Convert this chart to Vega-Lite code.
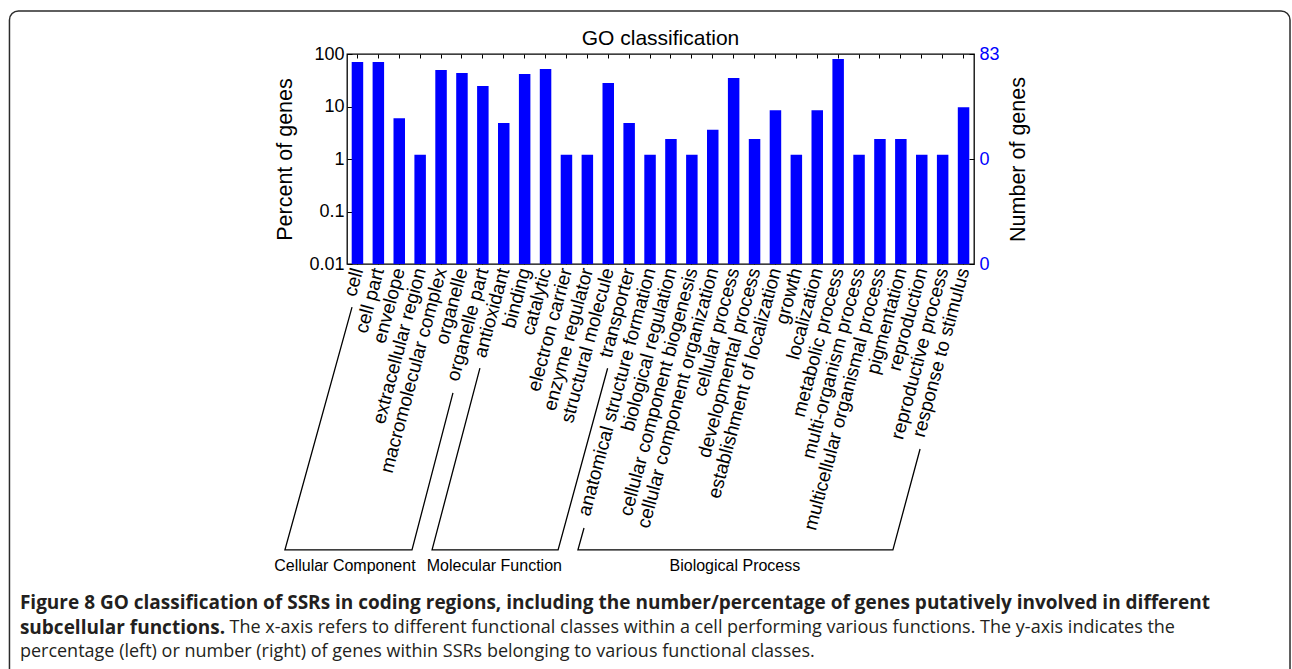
{
  "$schema": "https://vega.github.io/schema/vega-lite/v6.json",
  "width": 627,
  "height": 210,
  "autosize": {"type": "none"},
  "padding": {"left": 347, "top": 54, "right": 318, "bottom": 405},
  "background": "white",
  "config": {
    "view": {"stroke": "black", "strokeWidth": 1.3},
    "font": "Liberation Sans",
    "axis": {"grid": false, "labelFont": "Liberation Sans", "titleFont": "Liberation Sans", "labelColor": "black", "titleColor": "black", "tickColor": "black", "titleFontWeight": "normal", "domain": false}
  },
  "title": {"text": "GO classification", "fontSize": 21, "fontWeight": "normal", "font": "Liberation Sans", "color": "black", "anchor": "middle", "frame": "group", "offset": -56, "baseline": "alphabetic"},
  "datasets": {
    "go": [
      {"term": "cell", "group": "Cellular Component", "percent": 70.5, "genes": 58},
      {"term": "cell part", "group": "Cellular Component", "percent": 70.5, "genes": 58},
      {"term": "envelope", "group": "Cellular Component", "percent": 6.0, "genes": 5},
      {"term": "extracellular region", "group": "Cellular Component", "percent": 1.2, "genes": 1},
      {"term": "macromolecular complex", "group": "Cellular Component", "percent": 49.5, "genes": 41},
      {"term": "organelle", "group": "Cellular Component", "percent": 43.5, "genes": 36},
      {"term": "organelle part", "group": "Cellular Component", "percent": 24.6, "genes": 20},
      {"term": "antioxidant", "group": "Molecular Function", "percent": 4.85, "genes": 4},
      {"term": "binding", "group": "Molecular Function", "percent": 41.7, "genes": 35},
      {"term": "catalytic", "group": "Molecular Function", "percent": 51.8, "genes": 43},
      {"term": "electron carrier", "group": "Molecular Function", "percent": 1.2, "genes": 1},
      {"term": "enzyme regulator", "group": "Molecular Function", "percent": 1.2, "genes": 1},
      {"term": "structural molecule", "group": "Molecular Function", "percent": 28.0, "genes": 23},
      {"term": "transporter", "group": "Molecular Function", "percent": 4.85, "genes": 4},
      {"term": "anatomical structure formation", "group": "Biological Process", "percent": 1.2, "genes": 1},
      {"term": "biological regulation", "group": "Biological Process", "percent": 2.4, "genes": 2},
      {"term": "cellular component biogenesis", "group": "Biological Process", "percent": 1.2, "genes": 1},
      {"term": "cellular component organization", "group": "Biological Process", "percent": 3.6, "genes": 3},
      {"term": "cellular process", "group": "Biological Process", "percent": 34.9, "genes": 29},
      {"term": "developmental process", "group": "Biological Process", "percent": 2.4, "genes": 2},
      {"term": "establishment of localization", "group": "Biological Process", "percent": 8.5, "genes": 7},
      {"term": "growth", "group": "Biological Process", "percent": 1.2, "genes": 1},
      {"term": "localization", "group": "Biological Process", "percent": 8.5, "genes": 7},
      {"term": "metabolic process", "group": "Biological Process", "percent": 80.5, "genes": 67},
      {"term": "multi-organism process", "group": "Biological Process", "percent": 1.2, "genes": 1},
      {"term": "multicellular organismal process", "group": "Biological Process", "percent": 2.4, "genes": 2},
      {"term": "pigmentation", "group": "Biological Process", "percent": 2.4, "genes": 2},
      {"term": "reproduction", "group": "Biological Process", "percent": 1.2, "genes": 1},
      {"term": "reproductive process", "group": "Biological Process", "percent": 1.2, "genes": 1},
      {"term": "response to stimulus", "group": "Biological Process", "percent": 9.7, "genes": 8}
    ],
    "brackets": [
      {"grp": "Cellular Component", "ord": 1, "bx": 0.24, "by": 2.06},
      {"grp": "Cellular Component", "ord": 2, "bx": -2.97, "by": 13.68},
      {"grp": "Cellular Component", "ord": 3, "bx": 3.11, "by": 13.68},
      {"grp": "Cellular Component", "ord": 4, "bx": 5.07, "by": 6.17},
      {"grp": "Molecular Function", "ord": 1, "bx": 6.36, "by": 4.98},
      {"grp": "Molecular Function", "ord": 2, "bx": 4.07, "by": 13.68},
      {"grp": "Molecular Function", "ord": 3, "bx": 10.1, "by": 13.68},
      {"grp": "Molecular Function", "ord": 4, "bx": 12.47, "by": 4.99},
      {"grp": "Biological Process", "ord": 1, "bx": 11.34, "by": 12.63},
      {"grp": "Biological Process", "ord": 2, "bx": 11.05, "by": 13.68},
      {"grp": "Biological Process", "ord": 3, "bx": 26.12, "by": 13.68},
      {"grp": "Biological Process", "ord": 4, "bx": 27.42, "by": 8.85}
    ],
    "groups": [
      {"label": "Cellular Component", "gx": -0.1, "gy": 14.45},
      {"label": "Molecular Function", "gx": 7.05, "gy": 14.45},
      {"label": "Biological Process", "gx": 18.56, "gy": 14.45}
    ],
    "caption_bold": [
      {"text": "Figure 8 GO classification of SSRs in coding regions, including the number/percentage of genes putatively involved in different", "cx": -15.65, "cy": 16.22},
      {"text": "subcellular functions.", "cx": -15.65, "cy": 17.4}
    ],
    "caption_plain": [
      {"text": "The x-axis refers to different functional classes within a cell performing various functions. The y-axis indicates the", "cx": -5.62, "cy": 17.4},
      {"text": "percentage (left) or number (right) of genes within SSRs belonging to various functional classes.", "cx": -15.65, "cy": 18.58}
    ],
    "frame": [
      {"x1": -16.15, "x2": 45.12, "y1": -12.11, "y2": 20.5}
    ]
  },
  "layer": [
    {
      "data": {"name": "go"},
      "mark": {"type": "bar", "color": "#0000ff"},
      "encoding": {
        "x": {
          "field": "term", "type": "nominal", "sort": null,
          "scale": {"paddingInner": 0.45, "paddingOuter": 0.225},
          "axis": {"orient": "bottom", "title": null, "labelAngle": -75, "labelAlign": "right", "labelBaseline": "middle", "labelFontSize": 19, "labelPadding": 8, "tickSize": -4, "labelLimit": 500, "labelOverlap": false}
        },
        "y": {
          "field": "percent", "type": "quantitative",
          "scale": {"type": "log", "domain": [0.01, 100], "nice": false},
          "axis": {"orient": "left", "title": "Percent of genes", "values": [0.01, 0.1, 1, 10, 100], "format": "~g", "labelFontSize": 18, "titleFontSize": 21.5, "tickSize": -5, "labelPadding": 8, "titlePadding": 12}
        },
        "y2": {"datum": 0.01}
      }
    },
    {
      "data": {"name": "go"},
      "mark": {"type": "bar", "opacity": 0},
      "encoding": {
        "x": {
          "field": "term", "type": "nominal", "sort": null,
          "scale": {"paddingInner": 0.45, "paddingOuter": 0.225},
          "axis": {"orient": "top", "title": null, "labels": false, "tickSize": -4}
        },
        "y": {
          "field": "genes", "type": "quantitative",
          "scale": {"type": "log", "domain": [0.0083, 83], "nice": false},
          "axis": {"orient": "right", "title": "Number of genes", "titleAngle": 270, "values": [0.0083, 0.83, 83], "labelExpr": "format(floor(datum.value + 0.000001), 'd')", "labelColor": "#0000ff", "labelFontSize": 18, "titleFontSize": 21.5, "tickSize": -5, "labelPadding": 10, "titlePadding": 30}
        },
        "y2": {"datum": 0.0083}
      }
    },
    {
      "data": {"name": "brackets"},
      "mark": {"type": "line", "color": "black", "strokeWidth": 1.3},
      "encoding": {
        "x": {"field": "bx", "type": "quantitative", "scale": {"domain": [0, 30], "nice": false, "zero": false}, "axis": null},
        "y": {"field": "by", "type": "quantitative", "scale": {"domain": [-10.048, 0], "reverse": true, "nice": false, "zero": false}, "axis": null},
        "detail": {"field": "grp"},
        "order": {"field": "ord"}
      }
    },
    {
      "data": {"name": "groups"},
      "mark": {"type": "text", "fontSize": 16, "font": "Liberation Sans", "color": "black", "align": "center", "baseline": "middle"},
      "encoding": {
        "x": {"field": "gx", "type": "quantitative", "scale": {"domain": [0, 30], "nice": false, "zero": false}, "axis": null},
        "y": {"field": "gy", "type": "quantitative", "scale": {"domain": [-10.048, 0], "reverse": true, "nice": false, "zero": false}, "axis": null},
        "text": {"field": "label"}
      }
    },
    {
      "data": {"name": "caption_bold"},
      "mark": {"type": "text", "fontSize": 19, "font": "Open Sans", "fontWeight": "bold", "color": "#231f20", "align": "left", "baseline": "middle"},
      "encoding": {
        "x": {"field": "cx", "type": "quantitative", "scale": {"domain": [0, 30], "nice": false, "zero": false}, "axis": null},
        "y": {"field": "cy", "type": "quantitative", "scale": {"domain": [-10.048, 0], "reverse": true, "nice": false, "zero": false}, "axis": null},
        "text": {"field": "text"}
      }
    },
    {
      "data": {"name": "caption_plain"},
      "mark": {"type": "text", "fontSize": 18, "font": "Open Sans", "color": "#231f20", "align": "left", "baseline": "middle"},
      "encoding": {
        "x": {"field": "cx", "type": "quantitative", "scale": {"domain": [0, 30], "nice": false, "zero": false}, "axis": null},
        "y": {"field": "cy", "type": "quantitative", "scale": {"domain": [-10.048, 0], "reverse": true, "nice": false, "zero": false}, "axis": null},
        "text": {"field": "text"}
      }
    },
    {
      "data": {"name": "frame"},
      "mark": {"type": "rect", "fillOpacity": 0, "stroke": "#2b2b2b", "strokeWidth": 1.5, "cornerRadius": 9},
      "encoding": {
        "x": {"field": "x1", "type": "quantitative", "scale": {"domain": [0, 30], "nice": false, "zero": false}, "axis": null},
        "x2": {"field": "x2"},
        "y": {"field": "y1", "type": "quantitative", "scale": {"domain": [-10.048, 0], "reverse": true, "nice": false, "zero": false}, "axis": null},
        "y2": {"field": "y2"}
      }
    }
  ],
  "resolve": {"scale": {"x": "independent", "y": "independent"}, "axis": {"x": "independent", "y": "independent"}}
}
